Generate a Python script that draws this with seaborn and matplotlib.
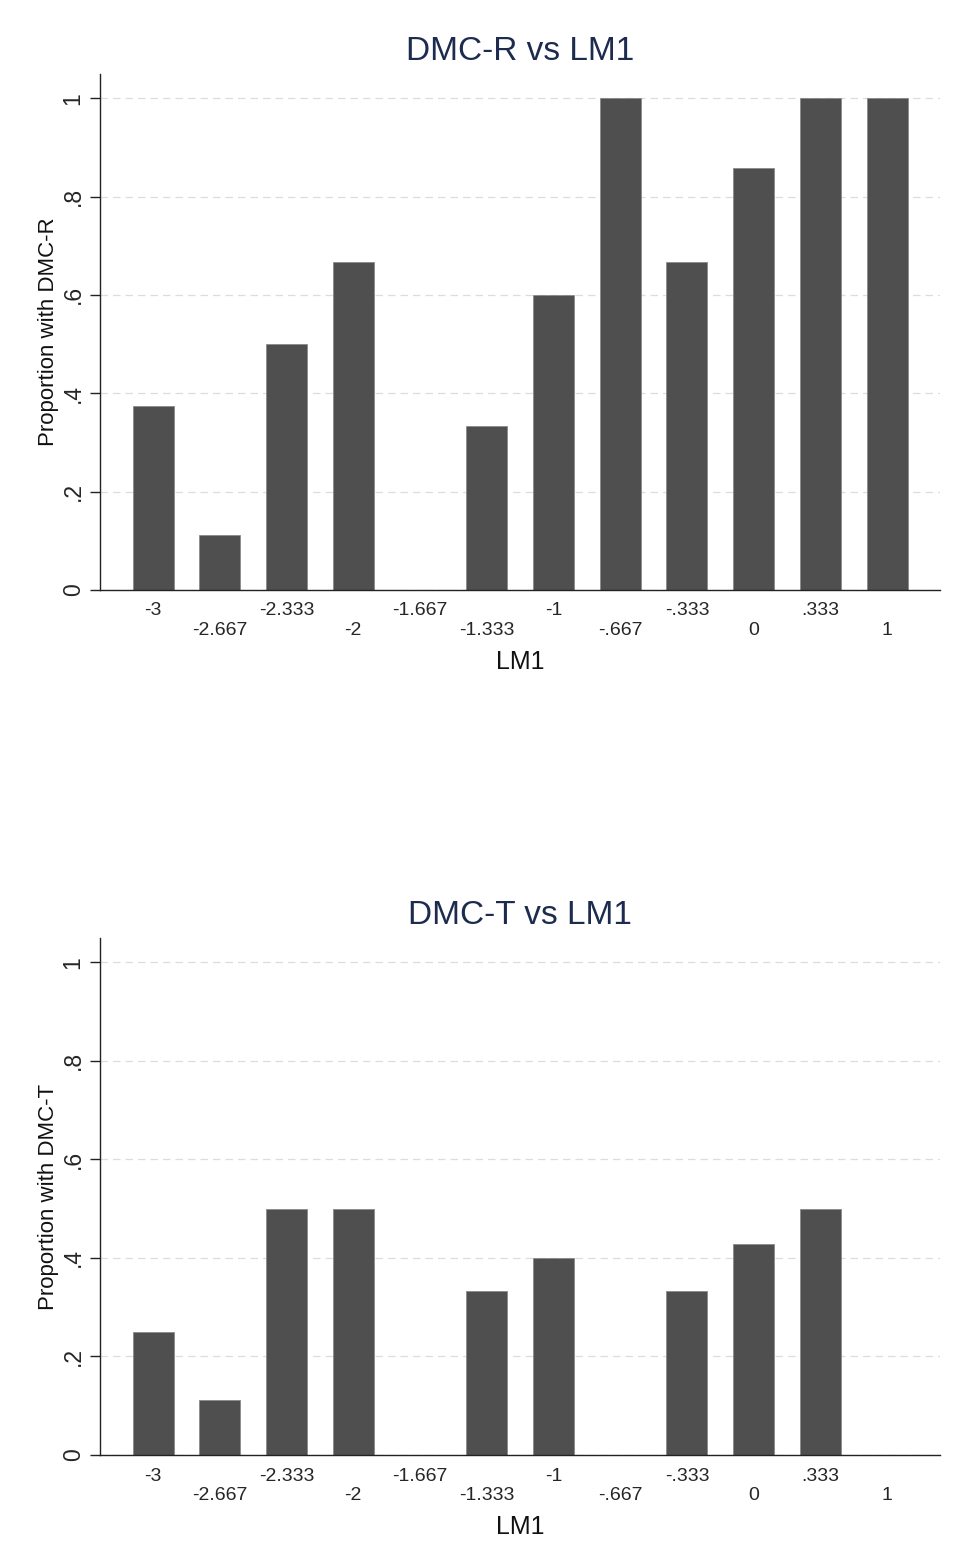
import matplotlib
matplotlib.use("Agg")
import matplotlib.pyplot as plt
import pandas as pd
import seaborn as sns

sns.set_theme(style="white")
plt.rcParams["font.family"] = ["Liberation Sans", "DejaVu Sans"]

# LM1 categories as they appear on the x axis
lm1_labels = ["-3", "-2.667", "-2.333", "-2", "-1.667", "-1.333",
              "-1", "-.667", "-.333", "0", ".333", "1"]

# proportion with each outcome per LM1 level
dmc_r = [0.375, 0.111, 0.5, 0.667, 0.0, 0.333, 0.6, 1.0, 0.667, 0.857, 1.0, 1.0]
dmc_t = [0.25, 0.111, 0.5, 0.5, 0.0, 0.333, 0.4, 0.0, 0.333, 0.429, 0.5, 0.0]

y_ticks = [0, 0.2, 0.4, 0.6, 0.8, 1.0]
y_tick_labels = ["0", ".2", ".4", ".6", ".8", "1"]

BAR_COLOR = "#4f4f4f"
TITLE_COLOR = "#1c2b4e"


def draw_panel(ax, values, outcome):
    df = pd.DataFrame({"LM1": lm1_labels, "prop": values})
    sns.barplot(data=df, x="LM1", y="prop", order=lm1_labels, color=BAR_COLOR,
                width=0.615, saturation=1, edgecolor="#8a8a8a", linewidth=0.6, ax=ax)
    ax.set_xlim(-0.795, len(lm1_labels) - 1 + 0.795)
    ax.set_ylim(0, 1.049)
    ax.set_yticks(y_ticks)
    ax.set_yticklabels(y_tick_labels, rotation=90, va="center", fontsize=16.5)
    # stagger x labels on two rows like the Stata output
    staggered = [lab if i % 2 == 0 else "\n" + lab for i, lab in enumerate(lm1_labels)]
    ax.set_xticks(range(len(lm1_labels)))
    ax.set_xticklabels(staggered, fontsize=14, linespacing=1.2)
    ax.tick_params(axis="x", length=0, pad=9)
    ax.tick_params(axis="y", length=7, width=1, color="#222222", left=True, pad=4)
    for y in y_ticks:
        ax.axhline(y, color="#dddddd", linewidth=0.9, linestyle=(0, (6, 4)), zorder=0)
    for side in ["top", "right"]:
        ax.spines[side].set_visible(False)
    for side in ["left", "bottom"]:
        ax.spines[side].set_color("#222222")
        ax.spines[side].set_linewidth(1.0)
    ax.set_xlabel("LM1", fontsize=18, labelpad=8, color="#111111")
    ax.set_ylabel(f"Proportion with {outcome}", fontsize=16, labelpad=2, color="#111111")
    ax.set_title(f"{outcome} vs LM1", fontsize=24, color=TITLE_COLOR, pad=10)


fig = plt.figure(figsize=(9.57, 15.62), dpi=100)
ax_top = fig.add_axes([0.1045, 0.6223, 0.878, 0.3303])
ax_bot = fig.add_axes([0.1045, 0.0685, 0.878, 0.3310])

draw_panel(ax_top, dmc_r, "DMC-R")
draw_panel(ax_bot, dmc_t, "DMC-T")

fig.savefig("out.png", dpi=100, facecolor="white")
